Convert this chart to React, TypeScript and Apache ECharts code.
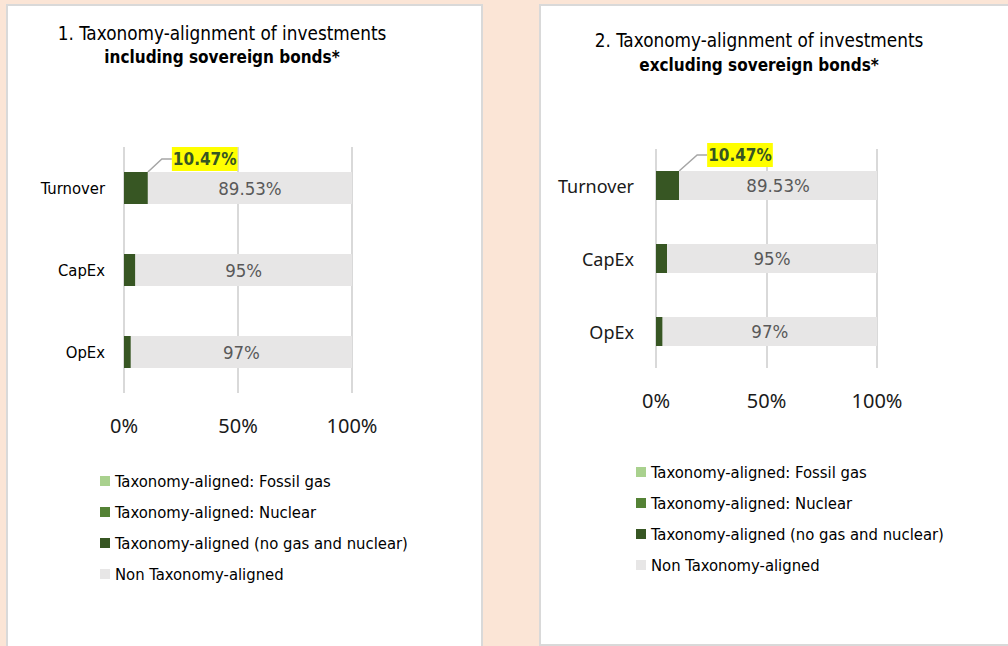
import React, { useEffect, useRef } from "react";
import * as echarts from "echarts";

const categories = ["Turnover", "CapEx", "OpEx"];
const seriesNames = [
  "Taxonomy-aligned: Fossil gas",
  "Taxonomy-aligned: Nuclear",
  "Taxonomy-aligned (no gas and nuclear)",
  "Non Taxonomy-aligned",
];
const seriesColors = ["#A9D18E", "#548235", "#375623", "#E7E6E6"];

const fossilGasIncl = [0, 0, 0];
const nuclearIncl = [0, 0, 0];
const alignedIncl = [10.47, 5, 3];
const nonAlignedIncl = [89.53, 95, 97];

const fossilGasExcl = [0, 0, 0];
const nuclearExcl = [0, 0, 0];
const alignedExcl = [10.47, 5, 3];
const nonAlignedExcl = [89.53, 95, 97];

const xMin = 0;
const xMax = 100;
const xInterval = 50;

const title1Line1 = "1. Taxonomy-alignment of investments";
const title1Line2 = "including sovereign bonds*";
const title2Line1 = "2. Taxonomy-alignment of investments";
const title2Line2 = "excluding sovereign bonds*";

const COND = "'Liberation Sans Narrow', 'Arial Narrow', 'DejaVu Sans Condensed', sans-serif";
const SANS = "'Noto Sans', 'Open Sans', sans-serif";

function buildSeries(
  idx: number,
  data: number[][],
  barWidth: number,
  calloutDx: number,
  calloutDy: number
) {
  return data.map((vals, s) => {
    const base: any = {
      name: seriesNames[s],
      type: "bar",
      xAxisIndex: idx,
      yAxisIndex: idx,
      stack: "stack" + idx,
      barWidth,
      itemStyle: { color: seriesColors[s] },
      data: vals.slice(),
    };
    if (s === 3) {
      base.label = {
        show: true,
        position: "inside",
        formatter: (p: any) => `${p.value}%`,
        color: "#595959",
        fontSize: 18.5,
        fontFamily: COND,
      };
    }
    if (s === 2) {
      base.data = vals.map((v, j) =>
        j === 0
          ? {
              value: v,
              label: {
                show: true,
                formatter: (p: any) => `${p.value}%`,
                color: "#375623",
                fontWeight: "bold",
                fontSize: 17,
                fontFamily: COND,
                backgroundColor: "#FFFF00",
                padding: [4, 1, 3, 1],
              },
            }
          : v
      );
      base.labelLine = {
        show: true,
        length2: 10,
        lineStyle: { color: "#A6A6A6", width: 1.5 },
      };
      base.labelLayout = (params: any) => {
        if (params.dataIndex !== 0) return {};
        return {
          x: params.rect.x + params.rect.width + calloutDx,
          y: params.rect.y + calloutDy,
          align: "left",
          verticalAlign: "middle",
        };
      };
    }
    return base;
  });
}

export default function App() {
  const ref = useRef<HTMLDivElement>(null);
  useEffect(() => {
    if (!ref.current) return;
    const chart = echarts.init(ref.current, undefined, { renderer: "svg" });
    const legendCommon = {
      orient: "vertical",
      icon: "rect",
      itemWidth: 10,
      itemHeight: 10,
      itemGap: 11,
      padding: 0,
      selectedMode: false,
      data: seriesNames,
      textStyle: { fontFamily: COND, fontSize: 16.5, color: "#000000", lineHeight: 20 },
    };
    const xAxisCommon = {
      type: "value",
      min: xMin,
      max: xMax,
      interval: xInterval,
      axisLine: { show: false },
      axisTick: { show: false },
      splitLine: { show: true, lineStyle: { color: "#D9D9D9", width: 2 } },
    };
    const option: any = {
      animation: false,
      backgroundColor: "#FBE5D6",
      graphic: [
        {
          type: "rect",
          z: -10,
          silent: true,
          shape: { x: 7, y: 5, width: 475, height: 700 },
          style: { fill: "#FFFFFF", stroke: "#D9D9D9", lineWidth: 2 },
        },
        {
          type: "rect",
          z: -10,
          silent: true,
          shape: { x: 540, y: 5, width: 520, height: 640 },
          style: { fill: "#FFFFFF", stroke: "#D9D9D9", lineWidth: 2 },
        },
        {
          type: "text",
          x: 222,
          y: 33,
          style: { text: title1Line1, align: "center", verticalAlign: "middle", font: `18.8px ${COND}`, fill: "#000000" },
        },
        {
          type: "text",
          x: 222,
          y: 57,
          style: { text: title1Line2, align: "center", verticalAlign: "middle", font: `bold 17px ${COND}`, fill: "#000000" },
        },
        {
          type: "text",
          x: 759,
          y: 40,
          style: { text: title2Line1, align: "center", verticalAlign: "middle", font: `18.8px ${COND}`, fill: "#000000" },
        },
        {
          type: "text",
          x: 759,
          y: 65,
          style: { text: title2Line2, align: "center", verticalAlign: "middle", font: `bold 17px ${COND}`, fill: "#000000" },
        },
      ],
      legend: [
        { ...legendCommon, left: 100, top: 471 },
        { ...legendCommon, left: 636, top: 462 },
      ],
      grid: [
        { left: 124, width: 228, top: 147, height: 246 },
        { left: 656, width: 221, top: 149, height: 219 },
      ],
      xAxis: [
        {
          ...xAxisCommon,
          gridIndex: 0,
          axisLabel: { formatter: "{value}%", margin: 22, fontSize: 20, fontFamily: SANS, color: "#1A1A1A" },
        },
        {
          ...xAxisCommon,
          gridIndex: 1,
          axisLabel: { formatter: "{value}%", margin: 22, fontSize: 20, fontFamily: SANS, color: "#1A1A1A" },
        },
      ],
      yAxis: [
        {
          type: "category",
          gridIndex: 0,
          inverse: true,
          data: categories,
          axisLine: { show: false },
          axisTick: { show: false },
          axisLabel: { margin: 19, fontSize: 16.5, fontFamily: COND, color: "#000000" },
        },
        {
          type: "category",
          gridIndex: 1,
          inverse: true,
          data: categories,
          axisLine: { show: false },
          axisTick: { show: false },
          axisLabel: { margin: 22, fontSize: 18, fontFamily: SANS, color: "#1A1A1A" },
        },
      ],
      series: [
        ...buildSeries(0, [fossilGasIncl, nuclearIncl, alignedIncl, nonAlignedIncl], 32, 24, -13),
        ...buildSeries(1, [fossilGasExcl, nuclearExcl, alignedExcl, nonAlignedExcl], 29, 28, -16),
      ],
    };
    chart.setOption(option);
    return () => chart.dispose();
  }, []);
  return <div ref={ref} style={{ position: "fixed", left: 0, top: 0, width: 1008, height: 646 }} />;
}
